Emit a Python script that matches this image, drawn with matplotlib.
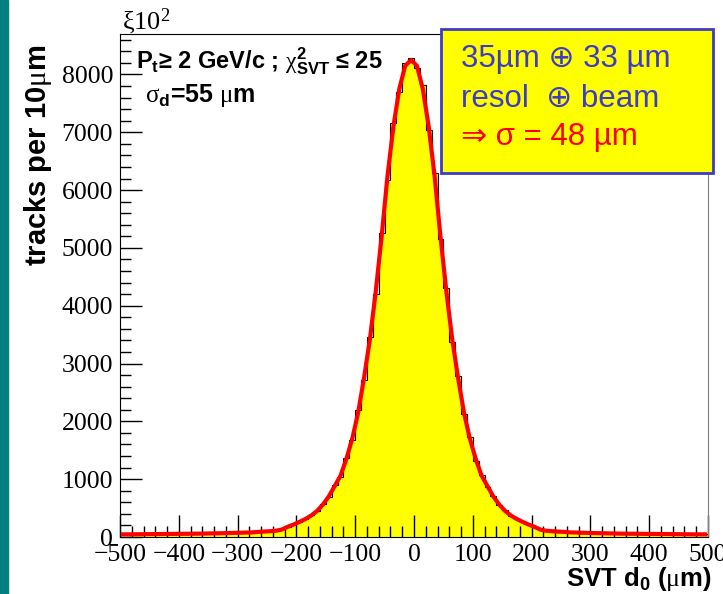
import numpy as np
import matplotlib
matplotlib.use('Agg')
import matplotlib.pyplot as plt
from matplotlib.patches import Rectangle

# SVT impact parameter distribution, 10 um bins from -500 to 500 um
bin_lo, bin_hi, bin_w = -500, 500, 10

# entries per bin, left to right
counts = [48, 41, 52, 44, 50, 55, 47, 53, 49, 57,
          52, 59, 54, 61, 57, 65, 60, 70, 66, 74,
          71, 80, 78, 86, 97, 96, 112, 130, 172, 210,
          268, 304, 378, 442, 572, 690, 896, 1040, 1372, 1680,
          2190, 2720, 3460, 4210, 5260, 6180, 7160, 7700, 8190, 8280,
          8120, 7810, 7040, 6300, 5150, 4300, 3380, 2790, 2120, 1730,
          1320, 1080, 865, 715, 550, 460, 362, 316, 255, 220,
          166, 132, 104, 103, 91, 90, 78, 79, 72, 73,
          66, 68, 62, 64, 58, 60, 55, 58, 52, 56,
          51, 54, 49, 52, 47, 50, 45, 48, 44, 47]

# fitted function evaluated at the bin centres
fit_vals = [46, 46, 47, 48, 49, 50, 51, 52, 53, 54,
            55, 56, 57, 58, 60, 62, 64, 66, 68, 71,
            74, 77, 80, 88, 94, 100, 108, 128, 175, 215,
            260, 310, 370, 450, 560, 700, 880, 1060, 1350, 1700,
            2150, 2750, 3420, 4250, 5200, 6250, 7100, 7750, 8150, 8250,
            8150, 7750, 7100, 6250, 5200, 4250, 3420, 2750, 2150, 1700,
            1350, 1060, 880, 700, 560, 450, 370, 310, 260, 215,
            175, 128, 108, 100, 94, 88, 80, 77, 74, 71,
            68, 66, 64, 62, 60, 58, 57, 56, 55, 54,
            53, 52, 51, 50, 49, 48, 47, 46, 46, 45]

edges = np.arange(bin_lo, bin_hi + bin_w, bin_w)
centres = 0.5 * (edges[:-1] + edges[1:])

plt.rcParams['font.family'] = 'Liberation Serif'
plt.rcParams['mathtext.fontset'] = 'custom'
plt.rcParams['mathtext.bf'] = 'Liberation Sans:bold'
plt.rcParams['mathtext.rm'] = 'Liberation Serif'
plt.rcParams['mathtext.it'] = 'Liberation Serif:italic'
plt.rcParams['mathtext.default'] = 'bf'

W, H = 723, 594
fig = plt.figure(figsize=(W / 100, H / 100), dpi=100)
fig.patches.append(Rectangle((0, 0), 8 / W, 1, transform=fig.transFigure,
                             color='#008080', zorder=0))

ax = fig.add_axes([120 / W, 57 / H, 588 / W, 503 / H])
ax.stairs(counts, edges, fill=True, color='#ffff00', zorder=1)
ax.stairs(counts, edges, color='black', lw=0.8, zorder=2)
ax.plot(centres, fit_vals, color='red', lw=3, zorder=3)

ax.set_xlim(bin_lo, bin_hi)
ax.set_ylim(0, 8700)
ax.set_xticks(np.arange(-500, 501, 100))
ax.set_xticks(np.arange(-500, 501, 20), minor=True)
ax.set_yticks(np.arange(0, 8001, 1000))
ax.set_yticks(np.arange(0, 8700, 200), minor=True)
ax.tick_params(axis='both', which='both', direction='in', labelsize=18.5, width=1,
               top=False, right=False)
ax.tick_params(axis='both', which='major', length=16, pad=5)
ax.tick_params(axis='both', which='minor', length=8)
ax.spines['right'].set_color('#808080')

sans = 'Liberation Sans'
fig.text(122 / W, 1 - 30 / H, r'$\mathrm{\xi10^{2}}$', fontsize=19, ha='left', va='baseline')
fig.text(136 / W, 1 - 68 / H, r'$P_t$≥ 2 GeV/c ; $\mathrm{\chi}^2_{SVT}$ ≤ 25',
         family=sans, weight='bold', fontsize=17, ha='left', va='baseline')
fig.text(145 / W, 1 - 102 / H, r'$\mathrm{\sigma}_d$=55 $\mathrm{\mu}$m',
         family=sans, weight='bold', fontsize=18, ha='left', va='baseline')

fig.text(38 / W, 1 - 45 / H, r'tracks per 10$\mathrm{\mu}$m', family=sans, weight='bold',
         fontsize=21, rotation=90, ha='center', va='top')
fig.text(712 / W, 1 - 586 / H, r'SVT d$_0$ ($\mathrm{\mu}$m)', family=sans, weight='bold',
         fontsize=18.5, ha='right', va='baseline')

# resolution summary box
fig.patches.append(Rectangle((441 / W, 1 - 173 / H), 272 / W, 144 / H, transform=fig.transFigure,
                             facecolor='#ffff00', edgecolor='#3c3cc8', lw=2, zorder=5))
box_font = [sans, 'DejaVu Sans']
fig.text(461 / W, 1 - 67 / H, '35µm ⊕ 33 µm', family=box_font, color='#3c3cc8',
         fontsize=22.5, ha='left', va='baseline', zorder=6)
fig.text(461 / W, 1 - 107 / H, 'resol  ⊕ beam', family=box_font, color='#3c3cc8',
         fontsize=22.5, ha='left', va='baseline', zorder=6)
fig.text(461 / W, 1 - 145 / H, '⇒ σ = 48 µm', family=box_font, color='red',
         fontsize=22.5, ha='left', va='baseline', zorder=6)

plt.savefig('out.png', dpi=100)
